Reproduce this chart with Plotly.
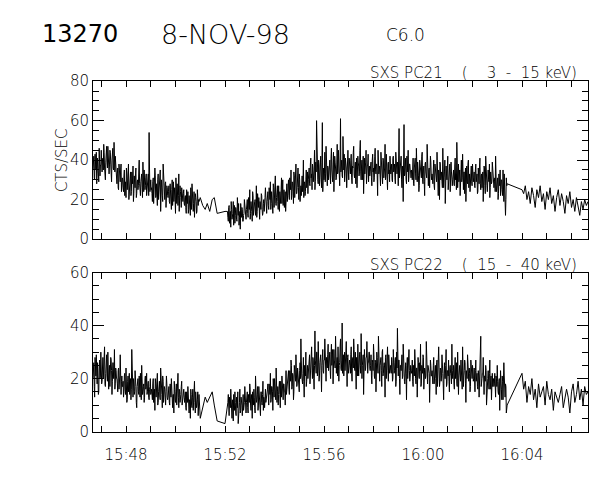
import pandas as pd
import plotly.graph_objects as go

# ---------------- data ----------------
BASE = "1998-11-08 15:46:40"          # t = 0 s
X_START = "1998-11-08 15:46:40"
X_END = "1998-11-08 16:06:40"

# sample cadence of the telemetry segments (seconds after BASE)
seg1_even_start, seg1_odd_start, seg1_step = 0, 1, 2
mid_times = [260, 266, 272, 277, 283, 289, 294, 301, 320]
seg2_even_start, seg2_odd_start, seg2_step = 326, 327, 2
seg3_start, seg3_step = 1040, 4

# SXS PC21 (3 - 15 keV), counts/s
pc21_seg1_even = [35, 42, 30, 38, 44, 33, 36, 29, 40, 37, 45,
                  34, 41, 48, 36, 30, 43, 39, 47, 33, 38, 44, 31, 40, 46, 35, 37, 42, 32,
                  28, 36, 25, 33, 29, 38, 27,
                  30, 24, 35, 27, 21, 33, 29, 38, 25, 31, 22, 34, 28, 19, 32, 26, 36, 23, 30, 27,
                  40, 24, 29, 33, 21, 28, 35, 25, 31, 22,
                  27, 33, 54, 24, 30,
                  26, 19, 31, 23, 36, 21, 28, 17, 33, 24, 27, 14, 30, 22, 38, 25, 20, 29, 23, 26,
                  21, 27, 18, 24, 15, 30, 22, 19, 26, 13, 23, 28, 17, 33, 20, 24, 16, 22, 19, 25,
                  17, 22, 13, 20, 24, 15, 19, 12, 21, 28, 16, 18, 11, 23, 19, 14, 22, 20]
pc21_seg1_odd = [39, 31, 43, 35, 28, 41, 37, 46, 32, 38, 34,
                 40, 35, 44, 30, 39, 47, 36, 41, 33, 45, 38, 29, 42, 36, 49, 34, 39, 31,
                 33, 26, 38, 30, 35, 24, 31,
                 26, 32, 22, 29, 36, 25, 31, 20, 28, 34, 24, 30, 37, 23, 27, 33, 21, 29, 25, 35,
                 28, 22, 31, 26, 39, 24, 30, 27, 33, 25,
                 29, 22, 36, 27, 25,
                 23, 29, 18, 27, 32, 22, 25, 30, 20, 28, 35, 21, 26, 19, 31, 24, 28, 16, 27, 22,
                 24, 19, 28, 21, 25, 17, 29, 23, 20, 31, 18, 25, 22, 14, 27, 21, 26, 19, 23, 18,
                 21, 16, 25, 18, 13, 22, 17, 26, 15, 20, 14, 24, 18, 21, 13, 25, 17, 19]
pc21_mid = [21, 17, 15, 18, 14, 20, 21, 13, 14]
pc21_seg2_even = [14, 9, 17, 12, 6, 15, 11, 19, 13, 8, 16, 10, 21, 12, 7, 14, 18, 11, 15, 9, 13, 17, 12,
                  15, 20, 11, 18, 25, 13, 17, 9, 22, 16, 19, 12, 27, 14, 18, 21, 10, 17, 23, 15, 13, 20, 16, 26, 18,
                  19, 24, 15, 22, 29, 18, 21, 13, 26, 20, 32, 17, 23, 19, 27, 14, 22, 25, 18, 30, 21, 16, 24, 20, 28,
                  24, 30, 20, 27, 35, 22, 28, 18, 32, 25, 38, 23, 29, 26, 33, 19, 27, 31, 24, 40, 28, 22, 30, 26, 34,
                  30, 36, 27, 41, 33, 38, 29, 35, 25, 39, 60, 34, 28, 37, 31, 42, 26, 59, 35, 30, 44, 33, 38, 27, 36,
                  35, 40, 28, 46, 33, 38, 24, 42, 36, 31, 48, 34, 39, 27, 61, 37, 32, 52, 35, 29, 41, 36, 33, 45, 30,
                  38, 33, 43, 28, 36, 47, 31, 39, 35, 26, 42, 37, 34, 50, 30, 40, 36, 23, 41, 35, 45, 32, 38, 29, 37,
                  34, 39, 27, 43, 36, 31, 46, 33, 38, 22, 41, 35, 30, 44, 37, 28, 40, 34, 48, 32, 36, 25, 39, 35, 42,
                  33, 38, 29, 42, 36, 31, 44, 35, 39, 27, 56, 34, 40, 30, 37, 19, 58, 33, 41, 28, 36, 45, 32, 38, 34,
                  35, 30, 41, 27, 38, 33, 46, 29, 36, 24, 40, 34, 31, 44, 28, 37, 22, 39, 33, 48, 30, 35, 26, 42, 32,
                  33, 28, 40, 25, 36, 31, 44, 27, 35, 20, 38, 32, 29, 46, 26, 34, 18, 37, 30, 42, 28, 35, 24, 39, 31,
                  30, 35, 27, 41, 33, 49, 26, 38, 31, 22, 36, 29, 43, 25, 34, 30, 19, 37, 28, 40, 32, 24, 35, 29, 38,
                  29, 34, 26, 38, 31, 23, 36, 28, 41, 25, 33, 30, 19, 37, 27, 42, 32, 24, 35, 29, 21, 34, 28, 39, 30,
                  26, 31, 42, 24, 29, 20, 33, 27, 22, 30, 25, 35, 19, 28, 12, 31, 28]
pc21_seg2_odd = [11, 16, 8, 14, 19, 10, 13, 7, 17, 12, 15, 9, 14, 18, 11, 5, 13, 16, 9, 12, 20, 14, 10,
                 18, 13, 21, 15, 10, 19, 14, 24, 12, 17, 20, 14, 11, 23, 16, 13, 19, 15, 22, 12, 18, 14, 21, 17, 13,
                 22, 17, 26, 20, 15, 24, 19, 28, 16, 23, 18, 21, 27, 15, 20, 24, 18, 31, 22, 17, 25, 20, 14, 23, 19,
                 27, 22, 31, 25, 20, 29, 24, 34, 21, 28, 23, 26, 36, 20, 30, 25, 22, 32, 27, 21, 29, 24, 35, 28, 23,
                 33, 28, 38, 31, 25, 36, 32, 45, 29, 34, 37, 30, 40, 27, 35, 31, 39, 24, 36, 33, 29, 47, 32, 37, 30,
                 37, 32, 41, 35, 29, 44, 36, 39, 30, 38, 33, 45, 28, 37, 34, 40, 31, 36, 43, 33, 38, 26, 39, 35, 41,
                 34, 40, 31, 37, 44, 33, 36, 28, 41, 35, 39, 32, 45, 34, 37, 30, 42, 36, 33, 39, 28, 37, 43, 35, 32,
                 37, 31, 40, 34, 29, 42, 35, 38, 32, 45, 33, 37, 27, 39, 34, 41, 31, 36, 30, 43, 35, 38, 33, 29, 37,
                 36, 30, 41, 34, 38, 28, 40, 33, 37, 45, 31, 36, 42, 26, 35, 39, 32, 37, 30, 42, 34, 29, 38, 35, 31,
                 33, 38, 28, 36, 41, 30, 35, 39, 32, 27, 37, 33, 42, 30, 35, 29, 38, 34, 31, 40, 27, 36, 33, 39, 30,
                 30, 35, 27, 38, 32, 29, 36, 22, 33, 39, 30, 34, 26, 37, 31, 40, 28, 33, 36, 25, 32, 38, 29, 34, 27,
                 33, 28, 37, 30, 25, 39, 32, 29, 35, 27, 40, 31, 28, 34, 23, 36, 32, 29, 38, 26, 33, 30, 37, 27, 32,
                 31, 27, 35, 29, 33, 24, 30, 37, 28, 32, 26, 34, 29, 36, 23, 31, 27, 33, 30, 38, 26, 32, 29, 35, 27,
                 29, 24, 33, 27, 31, 23, 28, 35, 25, 30, 22, 29, 33, 24, 20, 27]
pc21_seg3 = [25, 23, 27, 20, 24, 18, 26, 22, 16, 25, 21, 27, 19, 23, 15, 24, 20, 26, 18, 22,
             14, 21, 25, 17, 23, 19, 13, 22, 18, 24, 16, 20, 14, 21, 17, 12, 19, 15, 20, 17, 19]

# SXS PC22 (15 - 40 keV), counts/s
pc22_seg1_even = [20, 26, 13, 24, 29, 18, 22, 15, 27, 21, 25,
                  19, 28, 23, 32, 17, 24, 21, 30, 16, 25, 22, 27, 14, 26, 20, 31, 18, 23,
                  20, 15, 24, 18, 29, 14, 21,
                  17, 13, 21, 16, 24, 11, 19, 15, 22, 18, 12, 31, 16, 20, 14, 23, 17, 9, 19, 15,
                  21, 13, 18, 25, 14, 17, 11, 20, 16, 22,
                  15, 19, 12, 17, 14,
                  16, 12, 20, 14, 8, 18, 15, 22, 11, 17, 13, 24, 15, 9, 19, 14, 16, 10, 21, 13,
                  13, 17, 10, 15, 20, 12, 14, 7, 16, 11, 18, 13, 22, 9, 15, 12, 17, 10, 14, 16,
                  11, 15, 8, 13, 17, 10, 12, 5, 14, 9, 16, 11, 19, 7, 13, 10, 15, 12]
pc22_seg1_odd = [23, 17, 28, 21, 19, 26, 14, 24, 20, 30, 18,
                 24, 20, 27, 18, 22, 29, 19, 25, 21, 17, 28, 23, 19, 26, 22, 16, 24, 20,
                 18, 23, 16, 21, 14, 19, 17,
                 19, 15, 22, 14, 18, 12, 21, 17, 14, 20, 16, 23, 13, 18, 15, 21, 11, 17, 20, 14,
                 16, 22, 12, 19, 15, 18, 13, 21, 17, 14,
                 18, 13, 16, 20, 15,
                 14, 18, 11, 16, 20, 13, 17, 10, 15, 19, 12, 16, 14, 21, 11, 17, 13, 15, 18, 12,
                 15, 11, 18, 13, 16, 9, 14, 19, 12, 15, 10, 17, 13, 16, 11, 14, 19, 12, 15, 13,
                 13, 9, 15, 11, 14, 7, 12, 16, 10, 13, 8, 14, 11, 15, 9, 12, 6, 14]
pc22_mid = [5, 9, 13, 11, 13, 15, 10, 4, 3]
pc22_seg2_even = [9, 14, 6, 11, 16, 8, 12, 4, 10, 15, 7, 13, 9, 3, 11, 16, 8, 12, 6, 14, 10, 17, 9,
                  11, 15, 7, 13, 18, 10, 14, 5, 12, 16, 9, 21, 11, 14, 8, 17, 12, 6, 15, 10, 19, 13, 9, 16, 12,
                  14, 18, 10, 16, 22, 12, 17, 8, 15, 20, 13, 24, 11, 17, 14, 19, 9, 16, 21, 13, 18, 15, 10, 23, 16,
                  18, 23, 14, 21, 27, 16, 22, 12, 25, 19, 29, 17, 24, 20, 15, 26, 35, 21, 18, 28, 13, 23, 30, 19, 25,
                  22, 28, 18, 26, 32, 20, 27, 16, 38, 24, 30, 21, 34, 19, 26, 29, 15, 31, 23, 27, 35, 20, 28, 24, 33,
                  25, 30, 20, 33, 27, 18, 31, 24, 36, 22, 28, 32, 19, 26, 35, 23, 41, 27, 21, 30, 25, 34, 17, 29, 26,
                  27, 22, 32, 19, 28, 35, 24, 30, 16, 26, 33, 21, 29, 25, 37, 20, 27, 14, 31, 23, 28, 34, 22, 26, 30,
                  23, 29, 18, 26, 33, 21, 27, 15, 30, 24, 36, 20, 25, 28, 17, 31, 22, 26, 13, 29, 24, 32, 19, 27, 23,
                  24, 28, 19, 31, 22, 26, 17, 30, 39, 21, 27, 14, 25, 29, 20, 33, 23, 18, 26, 12, 28, 24, 31, 19, 25,
                  22, 27, 17, 25, 31, 20, 24, 13, 28, 21, 26, 33, 18, 23, 29, 16, 24, 20, 34, 19, 25, 22, 11, 27, 21,
                  23, 18, 28, 20, 25, 14, 27, 21, 32, 17, 24, 19, 29, 22, 12, 26, 20, 31, 18, 23, 27, 15, 25, 21, 33,
                  20, 25, 16, 28, 22, 18, 30, 14, 24, 21, 27, 19, 32, 17, 23, 26, 11, 22, 29, 20, 24, 15, 27, 21, 25,
                  19, 24, 15, 27, 20, 17, 23, 13, 26, 36, 18, 22, 28, 14, 21, 25, 10, 19, 23, 16, 27, 18, 12, 22, 20,
                  17, 22, 13, 20, 25, 15, 19, 8, 23, 16, 21, 12, 26, 14, 18, 7, 10]
pc22_seg2_odd = [11, 7, 13, 9, 12, 5, 10, 14, 8, 11, 6, 12, 15, 9, 11, 7, 13, 10, 14, 8, 11, 12, 7,
                 13, 9, 14, 11, 16, 8, 12, 15, 10, 13, 7, 14, 12, 17, 10, 13, 9, 15, 11, 14, 8, 12, 16, 11, 14,
                 16, 12, 18, 14, 11, 17, 15, 20, 13, 16, 12, 18, 15, 10, 17, 14, 19, 13, 16, 12, 18, 15, 21, 14, 17,
                 20, 16, 23, 19, 25, 17, 21, 15, 22, 19, 24, 18, 21, 16, 23, 20, 27, 18, 22, 19, 25, 21, 17, 23, 20,
                 24, 29, 21, 26, 23, 28, 20, 25, 27, 22, 30, 24, 26, 21, 28, 23, 25, 31, 22, 27, 24, 19, 26, 29, 23,
                 27, 23, 29, 25, 31, 22, 27, 24, 30, 26, 21, 28, 25, 32, 24, 27, 22, 29, 26, 23, 30, 25, 28, 22, 27,
                 25, 29, 22, 27, 24, 31, 23, 26, 28, 21, 27, 24, 30, 22, 26, 25, 29, 21, 27, 24, 28, 22, 26, 30, 24,
                 25, 21, 27, 23, 29, 20, 26, 24, 28, 22, 25, 19, 27, 23, 30, 21, 25, 24, 28, 20, 26, 23, 29, 22, 25,
                 22, 26, 20, 25, 23, 28, 19, 24, 22, 27, 20, 25, 23, 29, 21, 24, 19, 26, 22, 25, 20, 27, 23, 21, 24,
                 23, 19, 25, 21, 27, 18, 24, 22, 26, 20, 23, 17, 25, 22, 28, 19, 23, 21, 26, 18, 24, 22, 20, 25, 21,
                 21, 25, 18, 23, 20, 26, 17, 22, 24, 19, 23, 21, 27, 18, 22, 20, 25, 17, 23, 21, 19, 24, 22, 18, 23,
                 22, 18, 24, 20, 26, 17, 23, 21, 25, 19, 22, 16, 24, 21, 27, 18, 23, 20, 25, 19, 22, 17, 24, 20, 23,
                 20, 17, 23, 19, 22, 16, 21, 18, 24, 17, 20, 22, 15, 21, 19, 23, 17, 20, 18, 22, 16, 21, 19, 17, 20,
                 18, 15, 21, 17, 19, 14, 20, 16, 18, 12, 19, 16, 21, 13, 17, 9]
pc22_seg3 = [22, 16, 19, 11, 17, 14, 20, 12, 16, 9, 18, 13, 15, 17, 10, 19, 14, 12, 16, 8,
             15, 13, 11, 14, 17, 9, 12, 16, 13, 7, 15, 18, 11, 14, 19, 12, 16, 10, 17, 14, 15]

NB = "\u00a0"
TITLE_ID = "13270"
TITLE_DATE = "8-NOV-98"
TITLE_CLASS = "C6.0"
PANEL_TITLES = ["SXS PC21" + NB * 4 + "(" + NB * 4 + "3" + NB * 2 + "-" + NB * 2 + "15" + NB + "keV)",
                "SXS PC22" + NB * 4 + "(" + NB * 2 + "15" + NB * 2 + "-" + NB * 2 + "40" + NB + "keV)"]
Y_TITLE = "CTS/SEC"
Y_RANGES = [[0, 80], [0, 60]]


# ---------------- build ----------------
def seq(start, step, vals):
    return [(start + step * i, v) for i, v in enumerate(vals)]


def build(s1e, s1o, mid, s2e, s2o, s3):
    pts = (seq(seg1_even_start, seg1_step, s1e) + seq(seg1_odd_start, seg1_step, s1o)
           + list(zip(mid_times, mid))
           + seq(seg2_even_start, seg2_step, s2e) + seq(seg2_odd_start, seg2_step, s2o)
           + seq(seg3_start, seg3_step, s3))
    pts.sort(key=lambda p: p[0])
    secs = [p[0] for p in pts]
    vals = [p[1] for p in pts]
    times = pd.Timestamp(BASE) + pd.to_timedelta(secs, unit="s")
    return times, vals


t21, v21 = build(pc21_seg1_even, pc21_seg1_odd, pc21_mid, pc21_seg2_even, pc21_seg2_odd, pc21_seg3)
t22, v22 = build(pc22_seg1_even, pc22_seg1_odd, pc22_mid, pc22_seg2_even, pc22_seg2_odd, pc22_seg3)

FONT = "DejaVu Sans"
W = 200

fig = go.Figure()
fig.add_trace(go.Scatter(x=t21, y=v21, mode="lines", line=dict(color="black", width=1),
                         xaxis="x", yaxis="y", showlegend=False, hoverinfo="skip"))
fig.add_trace(go.Scatter(x=t22, y=v22, mode="lines", line=dict(color="black", width=1),
                         xaxis="x2", yaxis="y2", showlegend=False, hoverinfo="skip"))

xdom = [93 / 600, 588 / 600]
ydom_top = [(480 - 239) / 480, (480 - 75) / 480]
ydom_bot = [(480 - 439) / 480, (480 - 274) / 480]

xcommon = dict(type="date", range=[X_START, X_END], domain=xdom,
               showline=True, linecolor="black", linewidth=1, mirror="allticks",
               ticks="inside", ticklen=6, tickcolor="black", tickwidth=1,
               tick0="1998-11-08 15:48:00", dtick=240000, tickformat="%H:%M",
               minor=dict(ticks="inside", dtick=60000, tick0="1998-11-08 15:48:00",
                          ticklen=6, tickcolor="black", showgrid=False),
               showgrid=False, zeroline=False, ticklabelstandoff=9,
               tickfont=dict(family=FONT, size=15, color="black", weight=W))
ycommon = dict(showline=True, linecolor="black", linewidth=1, mirror="allticks",
               ticks="inside", ticklen=11, tickcolor="black", tickwidth=1, dtick=20,
               minor=dict(ticks="inside", dtick=5, ticklen=6, tickcolor="black", showgrid=False),
               showgrid=False, zeroline=False,
               tickfont=dict(family=FONT, size=15, color="black", weight=W))

fig.update_layout(
    width=600, height=480, autosize=False,
    margin=dict(l=0, r=0, t=0, b=0),
    paper_bgcolor="white", plot_bgcolor="white",
    xaxis=dict(xcommon, anchor="y", showticklabels=False),
    yaxis=dict(ycommon, domain=ydom_top, range=Y_RANGES[0], anchor="x"),
    xaxis2=dict(xcommon, anchor="y2", showticklabels=True, matches="x"),
    yaxis2=dict(ycommon, domain=ydom_bot, range=Y_RANGES[1], anchor="x2"),
)

ann = [
    dict(text=TITLE_ID, x=80 / 600, y=1 - 26 / 480, font=dict(family="DejaVu Sans", size=24, color="black")),
    dict(text=TITLE_DATE, x=225 / 600, y=1 - 26 / 480, font=dict(family=FONT, size=27, color="black", weight=W)),
    dict(text=TITLE_CLASS, x=405 / 600, y=1 - 27 / 480, font=dict(family=FONT, size=17, color="black", weight=W)),
    dict(text=PANEL_TITLES[0], x=579 / 600, y=(480 - 78) / 480, xanchor="right", yanchor="bottom",
         font=dict(family=FONT, size=15, color="black", weight=W)),
    dict(text=PANEL_TITLES[1], x=579 / 600, y=(480 - 277) / 480, xanchor="right", yanchor="bottom",
         font=dict(family=FONT, size=15, color="black", weight=W)),
    dict(text=Y_TITLE, x=62 / 600, y=1 - 157 / 480, textangle=-90,
         font=dict(family=FONT, size=15, color="black", weight=W)),
]
for a in ann:
    a.setdefault("xanchor", "center")
    a.setdefault("yanchor", "middle")
    a.update(xref="paper", yref="paper", showarrow=False)
fig.update_layout(annotations=ann)

fig.write_html("out.html", config={"displayModeBar": False},
               post_script="document.body.style.margin='0';")
